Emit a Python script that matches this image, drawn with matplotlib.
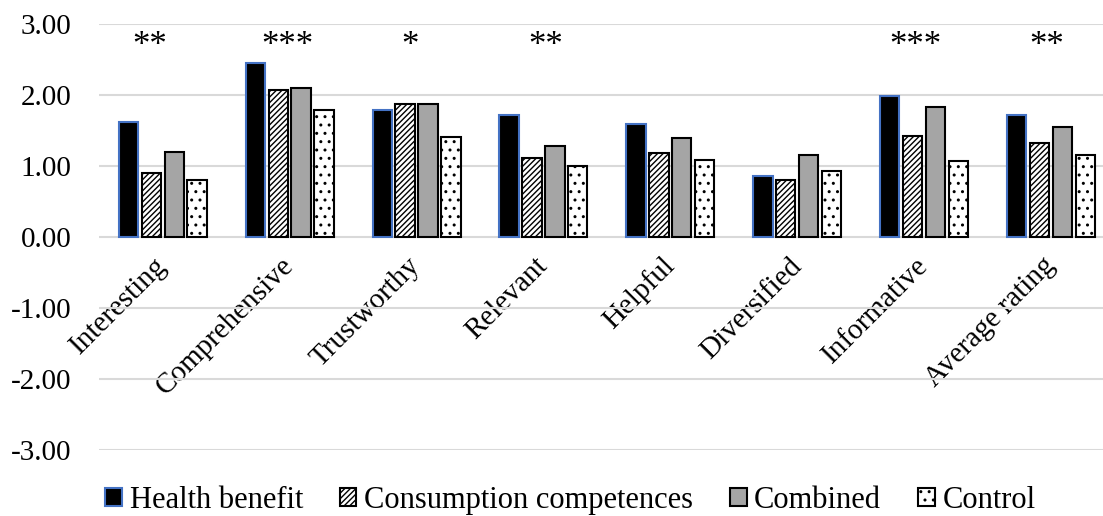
import matplotlib.pyplot as plt
import numpy as np

plt.rcParams['font.family'] = ['Liberation Serif', 'DejaVu Serif']
plt.rcParams['hatch.linewidth'] = 1.0

categories = ['Interesting', 'Comprehensive', 'Trustworthy', 'Relevant',
              'Helpful', 'Diversified', 'Informative', 'Average rating']
health_benefit = [1.62, 2.45, 1.79, 1.72, 1.59, 0.86, 1.98, 1.72]
consumption = [0.90, 2.07, 1.87, 1.11, 1.18, 0.80, 1.42, 1.32]
combined = [1.20, 2.10, 1.87, 1.28, 1.39, 1.15, 1.83, 1.55]
control = [0.80, 1.79, 1.41, 1.00, 1.08, 0.93, 1.07, 1.15]
stars = ['**', '***', '*', '**', '', '', '***', '**']
yticks = [3, 2, 1, 0, -1, -2, -3]

# Sternchen sind nicht ganz mittig gesetzt
star_dx = [-0.10, -0.02, -0.05, 0.02, 0, 0, -0.07, -0.04]

fig = plt.figure(figsize=(11.03, 5.16), dpi=100)
# Diagramm ist rechts angeschnitten
ax = fig.add_axes([0.0898, 0.128, 0.921, 0.8255])

x = np.arange(len(categories))
w = 0.15
step = 0.181

ax.bar(x - 1.5 * step, health_benefit, w, color='black', edgecolor='#4472C4', linewidth=1.5,
       label='Health benefit', zorder=3)
ax.bar(x - 0.5 * step, consumption, w, color='white', edgecolor='black', hatch='//////',
       linewidth=1.5, label='Consumption competences', zorder=3)
ax.bar(x + 0.5 * step, combined, w, color='#a5a5a5', edgecolor='black', linewidth=1.5,
       label='Combined', zorder=3)
ax.bar(x + 1.5 * step, control, w, color='white', edgecolor='black', hatch='..',
       linewidth=1.5, label='Control', zorder=3)

for i, s in enumerate(stars):
    if s:
        ax.text(x[i] + star_dx[i], 2.56, s, ha='center', va='baseline', fontsize=25)

ax.set_xlim(-0.5, len(categories) - 0.5)
ax.set_ylim(-3, 3)
ax.yaxis.grid(True, color='#d9d9d9', linewidth=1.5, zorder=0)
ax.set_axisbelow(True)

# Achse bei 0, danach erst die Ticks setzen
ax.spines['bottom'].set_position(('data', 0))
for sp in ax.spines.values():
    sp.set_visible(False)

ax.set_yticks(yticks)
ax.set_yticklabels(['%.2f' % v for v in yticks], fontsize=21)
ax.set_xticks(x)
ax.set_xticklabels(categories, fontsize=21, rotation=45, ha='right', va='center',
                   rotation_mode='anchor')
ax.tick_params(axis='both', length=0)
ax.tick_params(axis='y', pad=20)
ax.tick_params(axis='x', pad=18)

fig.legend(loc='center', ncol=4, frameon=False, fontsize=22,
           bbox_to_anchor=(0.517, 0.03), handlelength=0.55, handleheight=0.55,
           handletextpad=0.25, columnspacing=1.2)

fig.savefig('out.png', dpi=100)
